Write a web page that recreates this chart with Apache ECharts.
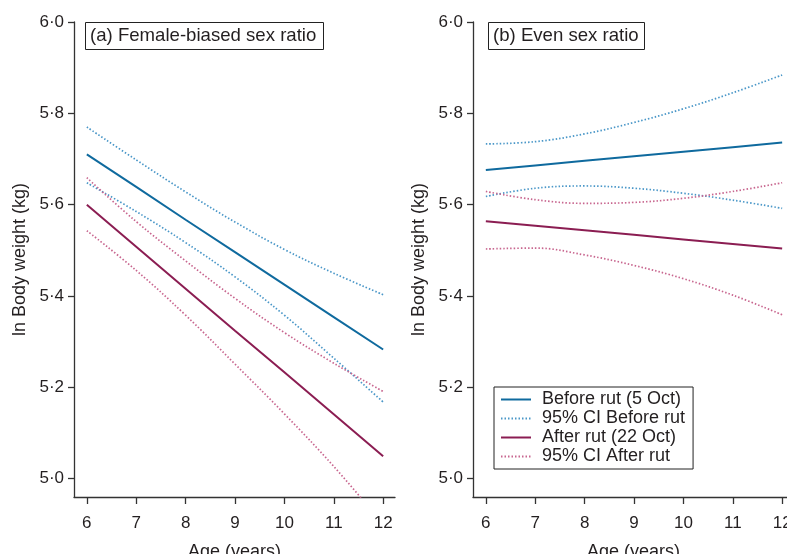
<!DOCTYPE html>
<html>
<head>
<meta charset="utf-8">
<script src="https://cdn.jsdelivr.net/npm/echarts@6/dist/echarts.min.js"></script>
<style>html,body{margin:0;padding:0;background:#fff}#c{width:787px;height:554px}</style>
</head>
<body>
<div id="c"></div>
<script>
const ages = [6, 7, 8, 9, 10, 11, 12];
const xTicks = [6, 7, 8, 9, 10, 11, 12];
const yTicks = [5.0, 5.2, 5.4, 5.6, 5.8, 6.0];

// Panel (a) Female-biased sex ratio
const aBefore      = [5.710, 5.639, 5.567, 5.496, 5.425, 5.354, 5.283];
const aBeforeUpper = [5.770, 5.698, 5.628, 5.562, 5.502, 5.450, 5.403];
const aBeforeLower = [5.648, 5.585, 5.517, 5.442, 5.358, 5.264, 5.168];
const aAfter       = [5.600, 5.508, 5.416, 5.324, 5.233, 5.141, 5.049];
const aAfterUpper  = [5.659, 5.563, 5.477, 5.395, 5.320, 5.253, 5.191];
const aAfterLower  = [5.543, 5.456, 5.358, 5.251, 5.142, 5.027, 4.900];

// Panel (b) Even sex ratio
const bBefore      = [5.676, 5.686, 5.696, 5.706, 5.716, 5.726, 5.736];
const bBeforeUpper = [5.733, 5.738, 5.755, 5.780, 5.810, 5.845, 5.884];
const bBeforeLower = [5.618, 5.636, 5.641, 5.636, 5.625, 5.610, 5.592];
const bAfter       = [5.564, 5.554, 5.544, 5.534, 5.524, 5.514, 5.504];
const bAfterUpper  = [5.629, 5.611, 5.603, 5.605, 5.614, 5.629, 5.648];
const bAfterLower  = [5.503, 5.505, 5.490, 5.467, 5.438, 5.402, 5.359];

const names = ['Before rut (5 Oct)', '95% CI Before rut', 'After rut (22 Oct)', '95% CI After rut'];
const panelTitles = ['(a) Female-biased sex ratio', '(b) Even sex ratio'];

const BLUE = '#0f6a9e', BLUE_L = '#4a97c8', PURP = '#8b1d52', PURP_L = '#c8668f';
const FONT = 'Liberation Sans, Arial, Helvetica, sans-serif';
const TXT = '#231f20';

function pts(vals) { return ages.map((a, i) => [a, vals[i]]); }
function mk(name, vals, idx, color, dotted) {
  return {
    type: 'line', name: name, xAxisIndex: idx, yAxisIndex: idx,
    data: pts(vals), symbol: 'none', showSymbol: false,
    smooth: dotted ? 0.4 : false, clip: true,
    lineStyle: { color: color, width: dotted ? 1.7 : 2, type: dotted ? [1.5, 2] : 'solid' },
    itemStyle: { color: color }, silent: true
  };
}
function xAx(idx) {
  return {
    type: 'value', gridIndex: idx, min: 5.74, max: 12.24,
    axisLine: { show: true, onZero: false, lineStyle: { color: '#333', width: 1.3 } },
    axisTick: { show: true, customValues: xTicks, length: 7, lineStyle: { color: '#333', width: 1.3 } },
    axisLabel: { customValues: xTicks, fontSize: 17, color: TXT, fontFamily: FONT, margin: 18 },
    splitLine: { show: false },
    name: 'Age (years)', nameLocation: 'middle', nameGap: 46,
    nameTextStyle: { fontSize: 18, color: TXT, fontFamily: FONT }
  };
}
function yAx(idx) {
  return {
    type: 'value', gridIndex: idx, min: 4.96, max: 6.0,
    axisLine: { show: true, onZero: false, lineStyle: { color: '#333', width: 1.3 } },
    axisTick: { show: true, customValues: yTicks, length: 6, lineStyle: { color: '#333', width: 1.3 } },
    axisLabel: { customValues: yTicks, fontSize: 17, color: TXT, fontFamily: FONT, margin: 10,
      formatter: v => v.toFixed(1).replace('.', '\u00B7') },
    splitLine: { show: false },
    name: 'ln Body weight (kg)', nameLocation: 'middle', nameGap: 45,
    nameTextStyle: { fontSize: 18, color: TXT, fontFamily: FONT }
  };
}

const chart = echarts.init(document.getElementById('c'), null, { renderer: 'canvas' });
chart.setOption({
  backgroundColor: '#fff',
  animation: false,
  title: [
    { text: panelTitles[0], left: 85, top: 22, borderColor: '#222', borderWidth: 1, padding: [4, 7, 4, 5],
      textStyle: { fontSize: 18.6, fontWeight: 'normal', color: TXT, fontFamily: FONT, lineHeight: 20 } },
    { text: panelTitles[1], left: 488, top: 22, borderColor: '#222', borderWidth: 1, padding: [4, 6, 4, 5],
      textStyle: { fontSize: 18.6, fontWeight: 'normal', color: TXT, fontFamily: FONT, lineHeight: 20 } }
  ],
  legend: {
    orient: 'vertical', left: 494, top: 387,
    data: names, itemWidth: 30, itemHeight: 12, itemGap: 0,
    borderColor: '#222', borderWidth: 1, padding: [3, 8, 3, 6],
    selectedMode: false,
    itemStyle: { opacity: 0 },
    textStyle: { fontSize: 18, color: TXT, fontFamily: FONT, lineHeight: 19, padding: [0, 0, 0, 6] }
  },
  grid: [
    { left: 74, top: 22, width: 321, height: 475, containLabel: false, outerBoundsMode: 'none' },
    { left: 473, top: 22, width: 321, height: 475, containLabel: false, outerBoundsMode: 'none' }
  ],
  xAxis: [xAx(0), xAx(1)],
  yAxis: [yAx(0), yAx(1)],
  series: [
    mk(names[1], aBeforeUpper, 0, BLUE_L, true),
    mk(names[1], aBeforeLower, 0, BLUE_L, true),
    mk(names[3], aAfterUpper, 0, PURP_L, true),
    mk(names[3], aAfterLower, 0, PURP_L, true),
    mk(names[0], aBefore, 0, BLUE, false),
    mk(names[2], aAfter, 0, PURP, false),
    mk(names[1], bBeforeUpper, 1, BLUE_L, true),
    mk(names[1], bBeforeLower, 1, BLUE_L, true),
    mk(names[3], bAfterUpper, 1, PURP_L, true),
    mk(names[3], bAfterLower, 1, PURP_L, true),
    mk(names[0], bBefore, 1, BLUE, false),
    mk(names[2], bAfter, 1, PURP, false)
  ]
});
</script>
</body>
</html>
